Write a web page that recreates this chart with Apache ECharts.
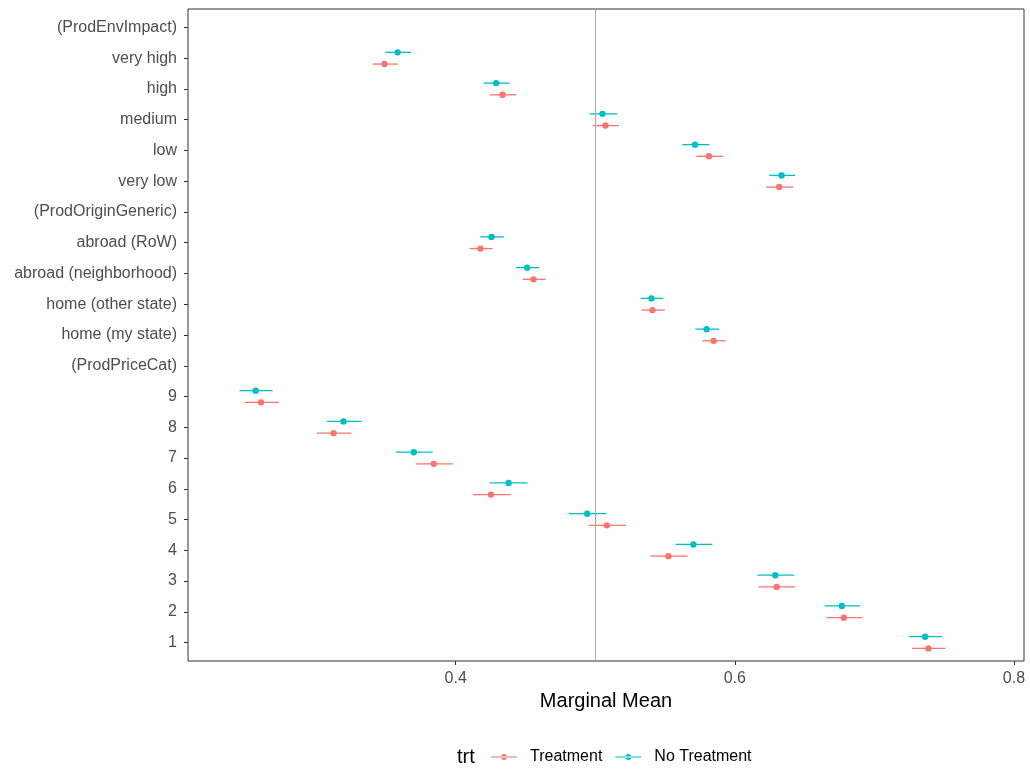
<!DOCTYPE html>
<html>
<head>
<meta charset="utf-8">
<script src="https://cdn.jsdelivr.net/npm/echarts@6/dist/echarts.min.js"></script>
<style>
  html, body { margin: 0; padding: 0; background: #fff; }
  #chart { width: 1030px; height: 770px; }
</style>
</head>
<body>
<div id="chart"></div>
<script>
// ---- Data ----
const categories = ['(ProdEnvImpact)', 'very high', 'high', 'medium', 'low', 'very low',
  '(ProdOriginGeneric)', 'abroad (RoW)', 'abroad (neighborhood)', 'home (other state)', 'home (my state)',
  '(ProdPriceCat)', '9', '8', '7', '6', '5', '4', '3', '2', '1'];

const treatEst = [null, 0.349, 0.4336, 0.5073, 0.5815, 0.6318, null, 0.4177, 0.4557, 0.541, 0.5848,
  null, 0.2605, 0.3125, 0.3843, 0.4253, 0.5083, 0.5524, 0.630, 0.6781, 0.7387];
const treatLower = [null, 0.3405, 0.4245, 0.498, 0.5725, 0.6225, null, 0.4099, 0.448, 0.5331, 0.5767,
  null, 0.249, 0.3005, 0.3714, 0.4122, 0.4952, 0.5395, 0.617, 0.6655, 0.727];
const treatUpper = [null, 0.3586, 0.4435, 0.5171, 0.5916, 0.6419, null, 0.4265, 0.4645, 0.5498, 0.5934,
  null, 0.2733, 0.3254, 0.3979, 0.4394, 0.5222, 0.5662, 0.6433, 0.6912, 0.7509];

const noTreatEst = [null, 0.3584, 0.429, 0.5052, 0.5715, 0.6335, null, 0.4257, 0.4512, 0.5403, 0.5798,
  null, 0.2567, 0.3196, 0.370, 0.4379, 0.4942, 0.5703, 0.629, 0.6767, 0.7363];
const noTreatLower = [null, 0.3496, 0.420, 0.4959, 0.5624, 0.6247, null, 0.4177, 0.4432, 0.5324, 0.5717,
  null, 0.2452, 0.3077, 0.357, 0.4245, 0.4811, 0.5574, 0.6163, 0.6643, 0.7249];
const noTreatUpper = [null, 0.3679, 0.4386, 0.5157, 0.5818, 0.6431, null, 0.4345, 0.4599, 0.5488, 0.5889,
  null, 0.2688, 0.3325, 0.3835, 0.4515, 0.508, 0.5839, 0.6426, 0.6898, 0.7485];

const xTicks = [0.4, 0.6, 0.8];
const refValue = 0.5;
const seriesNames = ['Treatment', 'No Treatment'];

// ---- Build ----
const DODGE = 0.19;
function build(est, lo, hi, offset) {
  const out = [];
  est.forEach((v, i) => {
    if (v === null) return;
    out.push([v, lo[i], hi[i], i + offset]);
  });
  return out;
}
const catIdx = categories.map((_, i) => i);

function makeRender(color) {
  return function (params, api) {
    const y = api.value(3);
    const p = api.coord([api.value(0), y]);
    const a = api.coord([api.value(1), y]);
    const b = api.coord([api.value(2), y]);
    return {
      type: 'group',
      children: [
        { type: 'line', shape: { x1: a[0], y1: a[1], x2: b[0], y2: b[1] },
          style: { stroke: color, lineWidth: 1.3 } },
        { type: 'circle', shape: { cx: p[0], cy: p[1], r: 3.2 },
          style: { fill: color } }
      ]
    };
  };
}

const RED = '#F8766D', TEAL = '#00BFC4';
const FONT = '"Liberation Sans", Arial, sans-serif';
const legendIcon = 'path://M0,2.4L26,2.4L26,3.6L0,3.6Z M10,3A3,3 0 1,0 16,3A3,3 0 1,0 10,3Z';

const chart = echarts.init(document.getElementById('chart'), null, { renderer: 'canvas' });
chart.setOption({
  animation: false,
  backgroundColor: '#fff',
  textStyle: { fontFamily: FONT },
  title: {
    text: 'trt', left: 452, top: 742,
    textStyle: { fontFamily: FONT, fontSize: 20, fontWeight: 'normal', color: '#000' }
  },
  legend: {
    left: 486, top: 744,
    itemWidth: 26, itemHeight: 6, itemGap: 13,
    data: [
      { name: seriesNames[0], icon: legendIcon },
      { name: seriesNames[1], icon: legendIcon }
    ],
    textStyle: { fontFamily: FONT, fontSize: 16, color: '#000', padding: [0, 0, 0, 8] }
  },
  grid: {
    left: 188, right: 6, top: 9, bottom: 109,
    show: true, borderColor: '#333', borderWidth: 1, backgroundColor: '#fff'
  },
  xAxis: {
    type: 'value', min: 0.2082, max: 0.8072,
    name: 'Marginal Mean', nameLocation: 'middle', nameGap: 29,
    nameTextStyle: { fontFamily: FONT, fontSize: 20, color: '#000' },
    axisLine: { show: false, onZero: false },
    axisTick: { show: true, length: 4, lineStyle: { color: '#333' }, customValues: xTicks },
    axisLabel: { margin: 10, fontSize: 16, color: '#4D4D4D', fontFamily: FONT,
      customValues: xTicks, formatter: v => v.toFixed(1) },
    splitLine: { show: false }
  },
  yAxis: {
    type: 'value', min: -0.6, max: 20.6, inverse: true,
    axisLine: { show: false, onZero: false },
    axisTick: { show: true, length: 4, lineStyle: { color: '#333' }, customValues: catIdx },
    axisLabel: { margin: 11, fontSize: 16, color: '#4D4D4D', fontFamily: FONT,
      customValues: catIdx, formatter: v => categories[Math.round(v)] },
    splitLine: { show: false }
  },
  series: [
    {
      name: seriesNames[0], type: 'custom',
      itemStyle: { color: RED },
      renderItem: makeRender(RED),
      encode: { x: [0, 1, 2], y: 3 },
      data: build(treatEst, treatLower, treatUpper, DODGE),
      markLine: {
        silent: true, symbol: 'none', label: { show: false },
        lineStyle: { color: '#A8A8A8', width: 1, type: 'solid' },
        data: [{ xAxis: refValue }]
      },
      z: 3
    },
    {
      name: seriesNames[1], type: 'custom',
      itemStyle: { color: TEAL },
      renderItem: makeRender(TEAL),
      encode: { x: [0, 1, 2], y: 3 },
      data: build(noTreatEst, noTreatLower, noTreatUpper, -DODGE),
      z: 3
    }
  ]
});
</script>
</body>
</html>
